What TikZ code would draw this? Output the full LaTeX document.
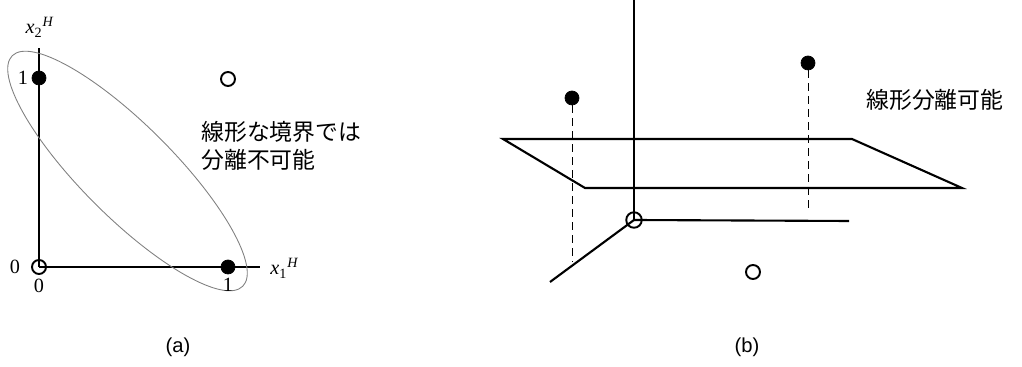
\documentclass[tikz,border=0pt]{standalone}
\usepackage{fontspec}
\setmainfont{Liberation Sans}
\newfontfamily\romanfont{Liberation Serif}
\newfontfamily\jpfont{Noto Sans CJK JP}

\tikzset{
    axis/.style={line width=1.6pt, black},
    plane/.style={line width=1.2pt, black},
    dot/.style={circle, fill=black, draw=black, inner sep=0pt, minimum size=0.28cm},
    hollow/.style={circle, draw=black, line width=1.1pt, inner sep=0pt, minimum size=0.28cm},
    proj/.style={line width=0.5pt, dash pattern=on 0.16cm off 0.1cm},
    num/.style={font=\romanfont\fontsize{11.5}{13}\selectfont, inner sep=0pt},
    note/.style={font=\jpfont\fontsize{13}{16.2}\selectfont, inner sep=0pt, align=left},
    caption/.style={font=\fontsize{11.5}{13}\selectfont, inner sep=0pt}
}

\begin{document}
\begin{tikzpicture}[x=0.02cm, y=-0.02cm]
    \useasboundingbox (0,0) rectangle (1022,367);

    % (a) input space
    \node[hollow] (orig) at (39,267) {};
    \coordinate (xonend) at (260,267);
    \coordinate (xtwoend) at (39,48);
    \draw[axis] (orig.center) -- (xonend);
    \draw[axis] (orig.center) -- (xtwoend);
    \node[dot] (pzo) at (39,78) {};
    \node[dot] (poz) at (228,267) {};
    \node[hollow] (poo) at (228,79) {};
    \draw[gray, line width=0.5pt, rotate around={-45:(127.5,171)}]
      (127.5,171) ellipse [x radius=163, y radius=46];

    \node[num] (lzy) at (15,267) {0};
    \node[num] (lzx) at (39,286) {0};
    \node[num] (loy) at (23,78) {1};
    \node[num] (lox) at (228,285) {1};
    \node[num] (ltwo) at (40,27) {\textit{x}\textsubscript{2}\textsuperscript{\textit{H}}};
    \node[num, anchor=west] (lone) at (270,268) {\textit{x}\textsubscript{1}\textsuperscript{\textit{H}}};

    \node[note, anchor=west] (nosep) at (201,146) {線形な境界では\\分離不可能};
    \node[caption] (capa) at (178,347) {(a)};

    % (b) hidden space
    \node[hollow, minimum size=0.31cm] (origb) at (634,220) {};
    \coordinate (zend) at (634,0);
    \coordinate (yend) at (849,221);
    \coordinate (xend) at (550,282);
    \draw[plane] (origb.center) -- (zend);
    \draw[plane] (origb.center) -- (yend);
    \draw[plane] (origb.center) -- (xend);

    \coordinate (pa) at (503,139);
    \coordinate (pb) at (852,139);
    \coordinate (pc) at (962,188);
    \coordinate (pd) at (585,188);
    \draw[plane] (pa) -- (pb) -- (pc) -- (pd) -- cycle;

    \node[dot] (qa) at (572,98) {};
    \node[dot] (qb) at (808,63) {};
    \node[hollow] (qc) at (753,272) {};
    \coordinate (qafoot) at (572,262);
    \coordinate (qbfoot) at (808,213);
    \draw[proj] (qa) -- (qafoot);
    \draw[proj] (qb) -- (qbfoot);

    \node[note, anchor=west] (sep) at (866,100) {線形分離可能};
    \node[caption] (capb) at (747,347) {(b)};

  \end{tikzpicture}
\end{document}
